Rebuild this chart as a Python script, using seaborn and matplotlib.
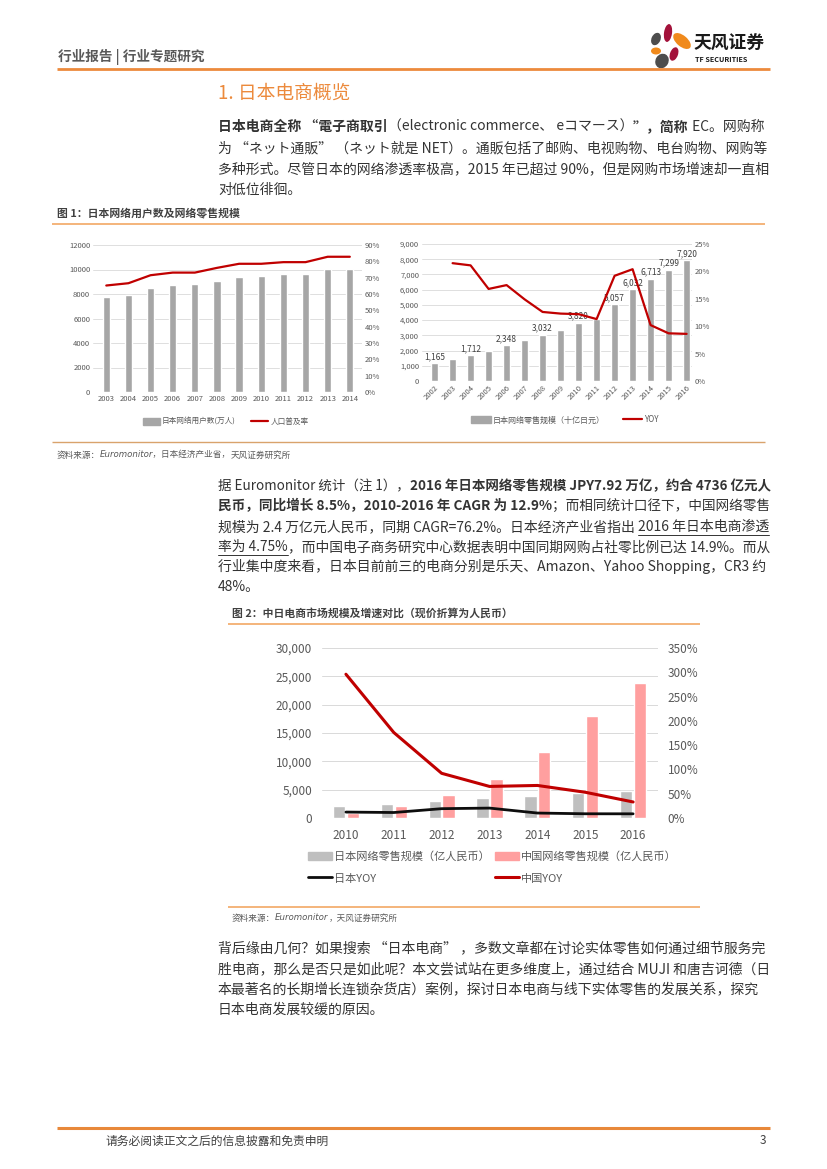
import numpy as np
import pandas as pd
import matplotlib
matplotlib.use('Agg')
import matplotlib.pyplot as plt
import seaborn as sns
from matplotlib.patches import Ellipse, Patch
from matplotlib.lines import Line2D
from matplotlib.ticker import FuncFormatter, MultipleLocator

# ---------------- data ----------------
# Fig 1 left: internet users (10k people) and penetration
user_years = ['2003', '2004', '2005', '2006', '2007', '2008', '2009', '2010', '2011', '2012', '2013', '2014']
internet_users = [7730, 7948, 8529, 8754, 8811, 9091, 9408, 9462, 9610, 9652, 10044, 10018]
penetration = [0.652, 0.666, 0.715, 0.731, 0.731, 0.760, 0.785, 0.785, 0.795, 0.795, 0.828, 0.828]

# Fig 1 right: Japan online retail (billion JPY) and YOY
ec_years = ['2002', '2003', '2004', '2005', '2006', '2007', '2008', '2009', '2010',
            '2011', '2012', '2013', '2014', '2015', '2016']
ec_sales = [1165, 1450, 1712, 2000, 2348, 2700, 3032, 3360, 3820, 4100, 5057, 6032, 6713, 7299, 7920]
ec_yoy_years = ec_years[1:]
ec_yoy = [0.215, 0.211, 0.168, 0.175, 0.149, 0.126, 0.123, 0.122, 0.113, 0.192, 0.204, 0.102, 0.087, 0.086]
ec_labelled = ['2002', '2004', '2006', '2008', '2010', '2012', '2013', '2014', '2015', '2016']

# Fig 2: China vs Japan (100m RMB) and YOY
cmp_years = ['2010', '2011', '2012', '2013', '2014', '2015', '2016']
jp_retail = [2170, 2520, 3050, 3570, 3920, 4330, 4700]
cn_retail = [900, 2170, 4100, 6910, 11660, 17980, 23780]
jp_yoy = [0.122, 0.113, 0.192, 0.204, 0.102, 0.087, 0.086]
cn_yoy = [2.96, 1.76, 0.92, 0.65, 0.67, 0.53, 0.33]

# ---------------- style ----------------
sns.set_theme(style='white')
FONTS = ['Noto Sans CJK SC', 'DejaVu Sans']
plt.rcParams['font.family'] = FONTS
plt.rcParams['axes.unicode_minus'] = False

ORANGE = '#EC8A3C'
TEXT = '#333333'
GREY_TXT = '#595959'
BAR_GREY = '#A6A6A6'
BAR_GREY2 = '#BFBFBF'
PINK = '#FF9F9F'
RED = '#C00000'
GRID = '#D9D9D9'

W, H = 827, 1169
TEXT_L, TEXT_R = 218, 770
fig = plt.figure(figsize=(W / 100, H / 100), dpi=100)
page = fig.add_axes([0, 0, 1, 1], zorder=0)
page.set_xlim(0, W)
page.set_ylim(H, 0)
page.axis('off')
renderer = fig.canvas.get_renderer()


def box(x0, y0, x1, y1):
    return [x0 / W, 1 - y1 / H, (x1 - x0) / W, (y1 - y0) / H]


def hline(x0, x1, y, color=ORANGE, lw=1.2):
    page.plot([x0, x1], [y, y], color=color, lw=lw, solid_capstyle='butt')


def _draw_parts(x, y, parts, size, color):
    arts = []
    for s, style in parts:
        kw = dict(fontsize=size, color=color, va='center', ha='left', family=FONTS)
        if 'b' in style:
            kw['fontweight'] = 'bold'
        if 'i' in style:
            kw['fontstyle'] = 'italic'
            kw['family'] = ['DejaVu Sans', 'Noto Sans CJK SC']
        t = page.text(x, y, s, **kw)
        w = t.get_window_extent(renderer).width
        arts.append(t)
        if 'u' in style:
            arts.append(page.plot([x, x + w], [y + 8, y + 8], color=color, lw=0.7)[0])
        x += w
    return arts, x


def text_run(x, y, parts, size=10, color=TEXT, max_right=None):
    arts, end = _draw_parts(x, y, parts, size, color)
    if max_right is not None and end > max_right:
        for a in arts:
            a.remove()
        size = size * (max_right - x) / (end - x)
        _draw_parts(x, y, parts, size, color)


def body(y, parts):
    text_run(TEXT_L, y, parts, size=10, max_right=TEXT_R)


# ---------------- header ----------------
page.text(58, 57, '行业报告 | 行业专题研究', fontsize=9.8, fontweight='bold', color=GREY_TXT, va='center')
hline(57, 770, 69, lw=2)
# logo
for (cx, cy, w_, h_, ang, col) in [(668, 33, 8, 18, 8, '#A3123A'), (682, 41, 11, 21, -50, '#F08A1C'),
                                   (656, 39, 9, 13, 25, '#4D4D4D'), (656, 51, 10, 7, 0, '#F08A1C'),
                                   (674, 54, 8, 14, 20, '#A3123A'), (662, 61, 13, 15, 30, '#4D4D4D')]:
    page.add_patch(Ellipse((cx, cy), w_, h_, angle=ang, color=col, lw=0))
page.text(693, 44, '天风证券', fontsize=12.8, fontweight='bold', color='#1a1a1a', va='center')
page.text(695, 60, 'TF SECURITIES', fontsize=5.2, fontweight='bold', color='#1a1a1a', va='center')

# ---------------- section title + paragraph 1 ----------------
page.text(218, 93, '1. 日本电商概览', fontsize=13.5, color=ORANGE, va='center')
body(127, [('日本电商全称 “電子商取引', 'b'), ('（electronic commerce、 eコマース）', ''),
           ('”，简称', 'b'), (' EC。网购称', '')])
body(148, [('为 “ネット通販” （ネット就是 NET）。通販包括了邮购、电视购物、电台购物、网购等', '')])
body(169, [('多种形式。尽管日本的网络渗透率极高，2015 年已超过 90%，但是网购市场增速却一直相', '')])
body(190, [('对低位徘徊。', '')])

# ---------------- figure 1 ----------------
page.text(57, 213, '图 1：日本网络用户数及网络零售规模', fontsize=7.8, fontweight='bold', color='#404040', va='center')
hline(52, 765, 224, color='#F2A865', lw=1.2)


def style_axis(ax, size):
    for sp in ax.spines.values():
        sp.set_visible(False)
    ax.tick_params(axis='both', length=0, labelsize=size, colors=GREY_TXT, pad=2)
    ax.set_xlabel('')
    ax.set_ylabel('')
    ax.patch.set_alpha(0)


# left chart
ax1 = fig.add_axes(box(93, 245, 362, 392), zorder=1)
sns.barplot(x=user_years, y=internet_users, color=BAR_GREY, saturation=1, width=0.33, ax=ax1)
ax1.set_ylim(0, 12000)
ax1.yaxis.set_major_locator(MultipleLocator(2000))
ax1.yaxis.grid(True, color=GRID, lw=0.6)
ax1.set_axisbelow(True)
style_axis(ax1, 5.5)
ax1b = ax1.twinx()
sns.lineplot(x=np.arange(len(user_years)), y=penetration, color=RED, lw=1.6, ax=ax1b)
ax1b.set_ylim(0, 0.9)
ax1b.yaxis.set_major_locator(MultipleLocator(0.1))
ax1b.yaxis.set_major_formatter(FuncFormatter(lambda v, _: f'{v:.0%}'))
style_axis(ax1b, 5.5)
ax1.set_xlim(-0.6, len(user_years) - 0.45)
fig.legend(handles=[Patch(color=BAR_GREY), Line2D([], [], color=RED, lw=1.6)],
           labels=['日本网络用户数(万人)', '人口普及率'], ncol=2, frameon=False,
           loc='center left', bbox_to_anchor=(136 / W, 1 - 422 / H), fontsize=5.5,
           handlelength=2.2, handleheight=0.9, handletextpad=0.3, columnspacing=2.0,
           labelcolor=GREY_TXT)

# right chart
ax2 = fig.add_axes(box(422, 244, 692, 381), zorder=1)
sns.barplot(x=ec_years, y=ec_sales, color=BAR_GREY, saturation=1, width=0.4, ax=ax2)
ax2.set_ylim(0, 9000)
ax2.yaxis.set_major_locator(MultipleLocator(1000))
ax2.yaxis.set_major_formatter(FuncFormatter(lambda v, _: f'{v:,.0f}'))
ax2.yaxis.grid(True, color=GRID, lw=0.6)
ax2.set_axisbelow(True)
style_axis(ax2, 5.5)
for lbl in ax2.get_xticklabels():
    lbl.set_rotation(45)
    lbl.set_ha('right')
    lbl.set_rotation_mode('anchor')
for i, (yr, v) in enumerate(zip(ec_years, ec_sales)):
    if yr in ec_labelled:
        ax2.annotate(f'{v:,}', (i, v), xytext=(0, 1.5), textcoords='offset points',
                     ha='center', va='bottom', fontsize=6, color='#404040')
ax2b = ax2.twinx()
sns.lineplot(x=[ec_years.index(y) for y in ec_yoy_years], y=ec_yoy, color=RED, lw=1.6, ax=ax2b)
ax2b.set_ylim(0, 0.25)
ax2b.yaxis.set_major_locator(MultipleLocator(0.05))
ax2b.yaxis.set_major_formatter(FuncFormatter(lambda v, _: f'{v:.0%}'))
style_axis(ax2b, 5.5)
ax2.set_xlim(-0.7, len(ec_years) - 0.7)
fig.legend(handles=[Patch(color=BAR_GREY), Line2D([], [], color=RED, lw=1.6)],
           labels=['日本网络零售规模（十亿日元）', 'YOY'], ncol=2, frameon=False,
           loc='center left', bbox_to_anchor=(464 / W, 1 - 420 / H), fontsize=5.8,
           handlelength=2.4, handleheight=0.9, handletextpad=0.3, columnspacing=2.2,
           labelcolor=GREY_TXT)

hline(52, 765, 442, color='#D9A36C', lw=1.0)
text_run(57, 455, [('资料来源：', ''), ('Euromonitor，日本经济产业省，', 'i'), ('天风证券研究所', '')],
         size=6.2, color=GREY_TXT)

# ---------------- paragraph 2 ----------------
body(486, [('据 Euromonitor 统计（注 1），', ''), ('2016 年日本网络零售规模 JPY7.92 万亿，约合 4736 亿元人', 'b')])
body(506, [('民币，同比增长 8.5%，2010-2016 年 CAGR 为 12.9%', 'b'), ('；而相同统计口径下，中国网络零售', '')])
body(527, [('规模为 2.4 万亿元人民币，同期 CAGR=76.2%。日本经济产业省指出 ', ''), ('2016 年日本电商渗透', 'u')])
body(547, [('率为 4.75%', 'u'), ('，而中国电子商务研究中心数据表明中国同期网购占社零比例已达 14.9%。而从', '')])
body(567, [('行业集中度来看，日本目前前三的电商分别是乐天、Amazon、Yahoo Shopping，CR3 约', '')])
body(587, [('48%。', '')])

# ---------------- figure 2 ----------------
page.text(232, 613, '图 2：中日电商市场规模及增速对比（现价折算为人民币）', fontsize=7.8, fontweight='bold',
          color='#404040', va='center')
hline(228, 700, 624, color='#F2A865', lw=1.2)

cmp_df = pd.DataFrame({
    'year': cmp_years * 2,
    'value': jp_retail + cn_retail,
    'series': ['日本网络零售规模（亿人民币）'] * len(cmp_years) + ['中国网络零售规模（亿人民币）'] * len(cmp_years),
})
ax3 = fig.add_axes(box(322, 648, 658, 818), zorder=1)
sns.barplot(data=cmp_df, x='year', y='value', hue='series',
            hue_order=['日本网络零售规模（亿人民币）', '中国网络零售规模（亿人民币）'],
            palette=[BAR_GREY2, PINK], saturation=1, width=0.58, gap=0.12, legend=False, ax=ax3)
ax3.set_ylim(0, 30000)
ax3.yaxis.set_major_locator(MultipleLocator(5000))
ax3.yaxis.set_major_formatter(FuncFormatter(lambda v, _: f'{v:,.0f}'))
ax3.yaxis.grid(True, color=GRID, lw=0.7)
ax3.set_axisbelow(True)
style_axis(ax3, 8.5)
ax3.tick_params(axis='y', pad=7)
ax3.tick_params(axis='x', pad=8)
ax3b = ax3.twinx()
sns.lineplot(x=np.arange(len(cmp_years)), y=jp_yoy, color='#0D0D0D', lw=2.0, ax=ax3b)
sns.lineplot(x=np.arange(len(cmp_years)), y=cn_yoy, color=RED, lw=2.2, ax=ax3b)
ax3b.set_ylim(0, 3.5)
ax3b.yaxis.set_major_locator(MultipleLocator(0.5))
ax3b.yaxis.set_major_formatter(FuncFormatter(lambda v, _: f'{v:.0%}'))
style_axis(ax3b, 8.5)
ax3b.tick_params(axis='y', pad=7)
ax3.set_xlim(-0.5, len(cmp_years) - 0.48)

fig.legend(handles=[Patch(color=BAR_GREY2), Line2D([], [], color='#0D0D0D', lw=2.0),
                    Patch(color=PINK), Line2D([], [], color=RED, lw=2.2)],
           labels=['日本网络零售规模（亿人民币）', '日本YOY', '中国网络零售规模（亿人民币）', '中国YOY'],
           ncol=2, frameon=False, loc='upper left', bbox_to_anchor=(308 / W, 1 - 851 / H),
           borderpad=0, borderaxespad=0,
           fontsize=8, handlelength=2.15, handleheight=0.8, handletextpad=0.2,
           columnspacing=0.45, labelspacing=1.05, labelcolor=GREY_TXT)

hline(228, 700, 907, color='#F2A865', lw=1.2)
text_run(232, 918, [('资料来源：', ''), ('Euromonitor', 'i'), ('，天风证券研究所', '')], size=6.2, color=GREY_TXT)

# ---------------- paragraph 3 ----------------
body(948, [('背后缘由几何？如果搜索 “日本电商” ，多数文章都在讨论实体零售如何通过细节服务完', '')])
body(969, [('胜电商，那么是否只是如此呢？本文尝试站在更多维度上，通过结合 MUJI 和唐吉诃德（日', '')])
body(989, [('本最著名的长期增长连锁杂货店）案例，探讨日本电商与线下实体零售的发展关系，探究', '')])
body(1010, [('日本电商发展较缓的原因。', '')])

# ---------------- footer ----------------
hline(57, 770, 1128, color='#E8883A', lw=2.2)
page.text(105, 1141, '请务必阅读正文之后的信息披露和免责申明', fontsize=8.5, color='#404040', va='center')
page.text(766, 1141, '3', fontsize=8.5, color='#404040', va='center', ha='right')

fig.savefig('out.png', dpi=100)
